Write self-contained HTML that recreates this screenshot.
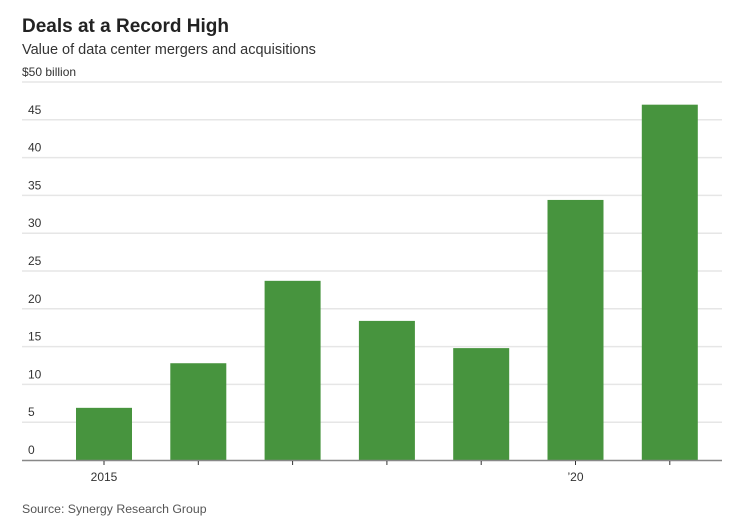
<!DOCTYPE html>
<html><head><meta charset="utf-8"><style>
body{margin:0;background:#fff;font-family:"Liberation Sans",sans-serif;}
svg text{font-family:"Liberation Sans",sans-serif;}
</style></head><body>
<svg width="743" height="525">
<text x="22" y="32" font-size="19" font-weight="bold" fill="#222">Deals at a Record High</text>
<text x="22" y="54" font-size="14.5" fill="#333">Value of data center mergers and acquisitions</text>
<g id="grid"></g><g id="bars"></g><g id="xaxis"></g>
<text x="22" y="513" font-size="12.3" fill="#555">Source: Synergy Research Group</text>
</svg>
<script>
const years = [2015, 2016, 2017, 2018, 2019, 2020, 2021];
const values = [6.9, 12.8, 23.7, 18.4, 14.8, 34.4, 47.0];
const yTicks = [0, 5, 10, 15, 20, 25, 30, 35, 40, 45, 50];
const yTickLabels = ["0","5","10","15","20","25","30","35","40","45","$50 billion"];
const xLabels = ["2015","","","","","\u201920",""];
const NS="http://www.w3.org/2000/svg";
const y0=460, yTop=82, vMax=50, left=22, right=722, pitch=94.3, x0=104, bw=56;
const y=v=>y0-(v/vMax)*(y0-yTop);
const x=i=>x0+i*pitch;
function mk(t,a,p){const e=document.createElementNS(NS,t);for(const k in a)e.setAttribute(k,a[k]);p.appendChild(e);return e;}
const g=document.getElementById('grid'),b=document.getElementById('bars'),xa=document.getElementById('xaxis');
yTicks.forEach((v,i)=>{
 if(v>0){const l=mk('line',{x1:left,x2:right,y1:y(v),y2:y(v),stroke:'#e6e6e6','stroke-width':1.5},g);
 
 }
 const t=mk('text',{x:i===yTickLabels.length-1?left:28,y:y(v)-6,'font-size':12,fill:'#333'},g);
 t.textContent=yTickLabels[i];
 
 
});
values.forEach((v,i)=>{
 const r=mk('rect',{x:x(i)-bw/2,y:y(v),width:bw,height:y0-y(v),fill:'#47943e'},b);
 
 
});
const base=mk('line',{x1:left,x2:right,y1:y0+0.5,y2:y0+0.5,stroke:'#888','stroke-width':1.5},xa);


years.forEach((yr,i)=>{
 const tk=mk('line',{x1:x(i),x2:x(i),y1:y0+1,y2:y0+5,stroke:'#333','stroke-width':1},xa);
 
 
 if(xLabels[i]){const t=mk('text',{x:x(i),y:481,'font-size':12,fill:'#333','text-anchor':'middle'},xa);
 t.textContent=xLabels[i];
 
 }
});
</script>
</body></html>
